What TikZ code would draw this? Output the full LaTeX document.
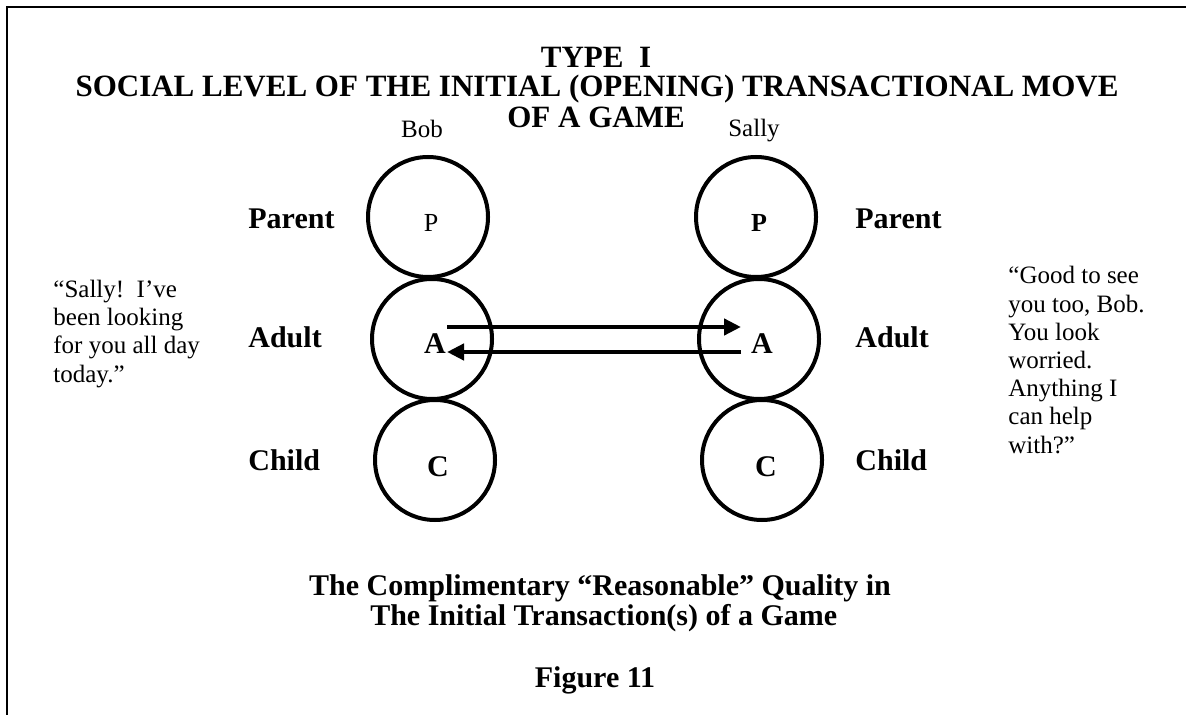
\documentclass[tikz,border=0pt]{standalone}
\usepackage{fontspec}
\setmainfont{Liberation Serif}
\usepackage{tikz}
\usetikzlibrary{arrows.meta}

\tikzset{
  egostate/.style={circle, draw, line width=2pt, minimum size=60pt, inner sep=0pt},
  heading/.style={font=\fontsize{15.5}{15}\selectfont\bfseries, inner sep=0pt, anchor=base},
  person/.style={font=\fontsize{12.5}{15}\selectfont, inner sep=0pt, anchor=base},
  plainletter/.style={font=\fontsize{13}{15}\selectfont, inner sep=0pt, anchor=base},
  boldletter/.style={font=\fontsize{15}{15}\selectfont\bfseries, inner sep=0pt, anchor=base},
  levellabel/.style={font=\fontsize{15}{15}\selectfont\bfseries, inner sep=0pt, anchor=base west},
  speech/.style={font=\fontsize{12.5}{14.1}\selectfont, inner sep=0pt, anchor=base west, align=left},
  footer/.style={font=\fontsize{15}{15}\selectfont\bfseries, inner sep=0pt, anchor=base, align=center},
  transaction/.style={line width=2.3pt, -{Triangle[length=8.5pt,width=8pt]}}
}

\begin{document}
\begin{tikzpicture}[x=0.5pt, y=-0.5pt]
  \useasboundingbox (0,0) rectangle (1186,715);

  % Draw the frame (open at right and bottom)
  \draw[line width=1pt] (7,715) -- (7,7) -- (1186,7);

  % Title
  \node[heading] (type) at (596,68) {TYPE\ \ I};
  \node[heading] (social) at (597,97) {SOCIAL LEVEL OF THE INITIAL (OPENING) TRANSACTIONAL MOVE};
  \node[heading] (game) at (596,128) {OF A GAME};

  % Names above the columns
  \node[person] (bob) at (422,138) {Bob};
  \node[person] (sally) at (754,137) {Sally};

  % Bob's ego states
  \node[egostate] (bobP) at (428,217) {};
  \node[egostate] (bobA) at (432,339) {};
  \node[egostate] (bobC) at (435,460) {};
  \node[plainletter] (bobPl) at (431,232) {P};
  \node[boldletter] (bobAl) at (435,354) {A};
  \node[boldletter] (bobCl) at (438,476) {C};

  % Sally's ego states
  \node[egostate] (sallyP) at (756,217) {};
  \node[egostate] (sallyA) at (759,339) {};
  \node[egostate] (sallyC) at (762,460) {};
  \node[plainletter, font=\fontsize{13}{15}\selectfont\bfseries] (sallyPl) at (759,232) {P};
  \node[boldletter] (sallyAl) at (762,354) {A};
  \node[boldletter] (sallyCl) at (766,476) {C};

  % Level labels
  \node[levellabel] (parentL) at (248,229) {Parent};
  \node[levellabel] (adultL) at (248,348) {Adult};
  \node[levellabel] (childL) at (248,470) {Child};
  \node[levellabel] (parentR) at (855,229) {Parent};
  \node[levellabel] (adultR) at (855,348) {Adult};
  \node[levellabel] (childR) at (855,470) {Child};

  % What they say (base is the last line)
  \node[speech] (bobSays) at (53,382) {“Sally!\ \ I’ve\\been looking\\for you all day\\today.”};
  \node[speech] (sallySays) at (1008,453) {“Good to see\\you too, Bob.\\You look\\worried.\\Anything I\\can help\\with?”};

  % Adult to adult transactions
  \coordinate (bobOut) at (447,327);
  \coordinate (sallyIn) at (741,327);
  \coordinate (sallyOut) at (741,352);
  \coordinate (bobIn) at (447,352);
  \draw[transaction] (bobOut) -- (sallyIn);
  \draw[transaction] (sallyOut) -- (bobIn);

  % Caption
  \node[footer] (quality) at (600,625) {The Complimentary “Reasonable” Quality in\\ \ The Initial Transaction(s) of a Game};
  \node[footer] (figure) at (595,687) {Figure 11};
\end{tikzpicture}
\end{document}
